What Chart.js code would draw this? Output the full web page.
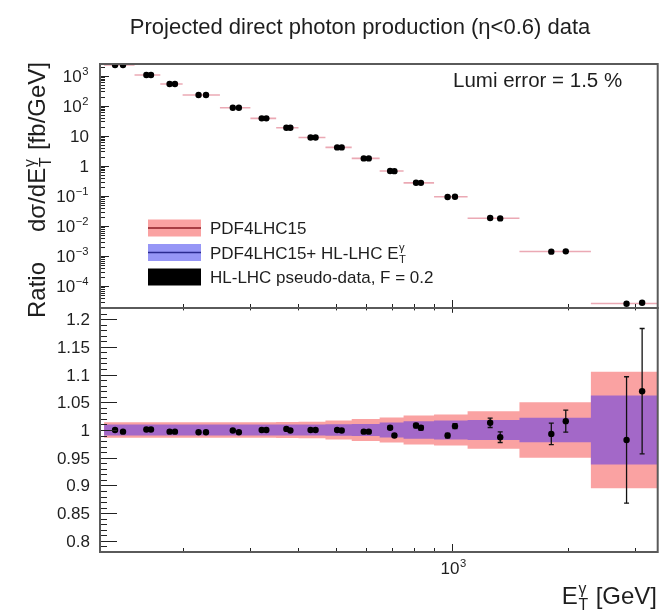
<!DOCTYPE html>
<html>
<head>
<meta charset="utf-8">
<script src="https://cdn.jsdelivr.net/npm/chart.js@4.4.1/dist/chart.umd.min.js"></script>
<style>
  html, body { margin: 0; padding: 0; background: #fff; }
  #wrap { position: relative; width: 663px; height: 616px; }
</style>
</head>
<body>
<div id="wrap"><canvas id="c" width="663" height="616"></canvas></div>
<script>
// ---- data ----
// E_T^gamma bin edges [GeV]
const binEdges = [125, 150, 175, 200, 250, 300, 350, 400, 470, 550, 650, 750, 900, 1100, 1500, 2300, 3500];
// PDF4LHC15 prediction per bin, dsigma/dE_T [fb/GeV]
const xsecTheory = [2280, 1050, 528, 228, 86, 38, 18.5, 8.8, 4.1, 1.77, 0.67, 0.27, 0.093, 0.018, 0.0014, 2.6e-5];
// E_T positions of the two pseudo-data points drawn in each bin
const etPointsA = [133.5, 161, 185, 220, 270, 321, 372, 430, 504, 591, 692, 808, 976, 1259, 1815, 2847];
const etPointsB = [140, 165.5, 191, 230, 280, 330, 381, 443, 518, 609, 710, 832, 1020, 1337, 1979, 3125];
// pseudo-data / PDF4LHC15
const ratioA = [1.000, 1.001, 0.997, 0.996, 0.999, 1.000, 1.002, 1.000, 1.000, 0.997, 1.004, 1.008, 0.990, 1.013, 0.993, 0.982];
const ratioB = [0.997, 1.001, 0.997, 0.996, 0.996, 1.000, 0.999, 1.000, 0.999, 0.997, 0.990, 1.004, 1.007, 0.987, 1.016, 1.070];
// pseudo-data uncertainties (on the ratio)
const errA = [0.001, 0.001, 0.001, 0.001, 0.001, 0.0015, 0.0015, 0.002, 0.002, 0.0025, 0.003, 0.004, 0.004, 0.0085, 0.0195, 0.114];
const errB = [0.001, 0.001, 0.001, 0.001, 0.001, 0.0015, 0.0015, 0.002, 0.002, 0.0025, 0.003, 0.004, 0.0045, 0.0095, 0.020, 0.113];
// relative PDF uncertainty (half width) before / after adding the HL-LHC data
const pdfBand = [0.014, 0.014, 0.014, 0.014, 0.014, 0.014, 0.0145, 0.015, 0.017, 0.020, 0.0225, 0.026, 0.028, 0.034, 0.050, 0.105];
const hllhcBand = [0.010, 0.010, 0.010, 0.010, 0.010, 0.010, 0.010, 0.010, 0.0105, 0.011, 0.0135, 0.0156, 0.017, 0.018, 0.022, 0.062];
// axis ticks and labels
const xLabelTicks = [1000];
const xTickLabels = [['10', '3']];
const yTopTicks = [1e3, 1e2, 10, 1, 0.1, 0.01, 1e-3, 1e-4];
const yTopLabels = [['10', '3'], ['10', '2'], ['10', ''], ['1', ''], ['10', '\u22121'], ['10', '\u22122'], ['10', '\u22123'], ['10', '\u22124']];
const yRatioTicks = [1.2, 1.15, 1.1, 1.05, 1, 0.95, 0.9, 0.85, 0.8];
const yRatioLabels = ['1.2', '1.15', '1.1', '1.05', '1', '0.95', '0.9', '0.85', '0.8'];

const FONT = '"Liberation Sans", Arial, Helvetica, sans-serif';
const PINK = 'rgb(250,162,162)';
const PURPLE = 'rgb(163,104,200)';

// ---- dataset builders ----
function bandEdge(vals, sign) {
  const pts = vals.map((h, i) => ({ x: binEdges[i], y: 1 + sign * h }));
  pts.push({ x: binEdges[binEdges.length - 1], y: 1 + sign * vals[vals.length - 1] });
  return pts;
}
function binSegments(vals) {
  const pts = [];
  vals.forEach((v, i) => {
    pts.push({ x: binEdges[i], y: v }, { x: binEdges[i + 1], y: v }, { x: binEdges[i + 1], y: null });
  });
  return pts;
}
function errorSegments(xs, ys, es) {
  const pts = [];
  xs.forEach((x, i) => {
    pts.push({ x: x, y: ys[i] - es[i] }, { x: x, y: ys[i] + es[i] }, { x: x, y: null });
  });
  return pts;
}
const toPoints = (xs, ys) => xs.map((x, i) => ({ x: x, y: ys[i] }));
const topA = ratioA.map((r, i) => xsecTheory[i] * r);
const topB = ratioB.map((r, i) => xsecTheory[i] * r);

// each bin value holds from its lower edge up to the next edge
const bandStyle = { pointRadius: 0, borderWidth: 0, stepped: 'before', yAxisID: 'yr', tension: 0 };
const dotStyle = { showLine: false, pointRadius: 3.2, pointBackgroundColor: '#000', pointBorderColor: '#000', pointBorderWidth: 0, order: 1 };
const errStyle = { yAxisID: 'yr', borderColor: '#111', borderWidth: 1.3, pointStyle: 'line', pointRadius: 2.5,
                   pointBorderColor: '#111', pointBorderWidth: 1.3, spanGaps: false, order: 2 };

const datasets = [
  Object.assign({ label: 'PDF4LHC15 up', data: bandEdge(pdfBand, 1), fill: '+1', backgroundColor: PINK, borderColor: PINK, order: 10 }, bandStyle),
  Object.assign({ label: 'PDF4LHC15 down', data: bandEdge(pdfBand, -1), fill: false, borderColor: PINK, order: 10 }, bandStyle),
  Object.assign({ label: 'HL-LHC up', data: bandEdge(hllhcBand, 1), fill: '+1', backgroundColor: PURPLE, borderColor: PURPLE, order: 8 }, bandStyle),
  Object.assign({ label: 'HL-LHC down', data: bandEdge(hllhcBand, -1), fill: false, borderColor: PURPLE, order: 8 }, bandStyle),
  { label: 'PDF4LHC15', yAxisID: 'y', data: binSegments(xsecTheory), borderColor: 'rgba(228,140,155,0.75)', borderWidth: 1.6,
    pointRadius: 0, spanGaps: false, fill: false, order: 6 },
  Object.assign({ label: 'err A', data: errorSegments(etPointsA, ratioA, errA) }, errStyle),
  Object.assign({ label: 'err B', data: errorSegments(etPointsB, ratioB, errB) }, errStyle),
  Object.assign({ label: 'ratio A', yAxisID: 'yr', data: toPoints(etPointsA, ratioA) }, dotStyle),
  Object.assign({ label: 'ratio B', yAxisID: 'yr', data: toPoints(etPointsB, ratioB) }, dotStyle),
  Object.assign({ label: 'pseudo-data A', yAxisID: 'y', data: toPoints(etPointsA, topA) }, dotStyle),
  Object.assign({ label: 'pseudo-data B', yAxisID: 'y', data: toPoints(etPointsB, topB) }, dotStyle)
];

// ---- text with sub/superscripts ----
function partsWidth(ctx, parts, size) {
  let w = 0;
  for (const p of parts) {
    if (p.t !== undefined) { ctx.font = size + 'px ' + FONT; w += ctx.measureText(p.t).width; }
    else {
      ctx.font = (size * 0.66) + 'px ' + FONT;
      const a = p.sup ? ctx.measureText(p.sup).width : 0;
      const b = p.sub ? ctx.measureText(p.sub).width : 0;
      w += Math.max(a, b) + size * 0.06;
    }
  }
  return w;
}
function drawParts(ctx, parts, x, y, size, align, color) {
  const w = partsWidth(ctx, parts, size);
  let cx = align === 'right' ? x - w : (align === 'center' ? x - w / 2 : x);
  ctx.fillStyle = color || '#1e1e1e';
  ctx.textAlign = 'left';
  ctx.textBaseline = 'alphabetic';
  for (const p of parts) {
    if (p.t !== undefined) {
      ctx.font = size + 'px ' + FONT;
      ctx.fillText(p.t, cx, y);
      cx += ctx.measureText(p.t).width;
    } else {
      ctx.font = (size * 0.66) + 'px ' + FONT;
      const a = p.sup ? ctx.measureText(p.sup).width : 0;
      const b = p.sub ? ctx.measureText(p.sub).width : 0;
      if (p.sup) ctx.fillText(p.sup, cx + size * 0.03, y - size * 0.42);
      if (p.sub) ctx.fillText(p.sub, cx + size * 0.03, y + size * 0.24);
      cx += Math.max(a, b) + size * 0.06;
    }
  }
}

// ---- frame, inward ticks, labels, legend ----
const decor = {
  id: 'decor',
  beforeDraw(chart) {
    const c = chart.ctx;
    c.save(); c.fillStyle = '#fff'; c.fillRect(0, 0, chart.width, chart.height); c.restore();
  },
  afterDraw(chart) {
    const ctx = chart.ctx;
    const xs = chart.scales.x, yt = chart.scales.y, yr = chart.scales.yr;
    const L = chart.chartArea.left, R = chart.chartArea.right;
    ctx.save();

    // ticks
    ctx.strokeStyle = '#222';
    ctx.lineWidth = 1;
    ctx.beginPath();
    // log ticks of the cross-section axis
    for (let d = -6; d <= 4; d++) {
      for (let m = 1; m <= 9; m++) {
        const v = m * Math.pow(10, d);
        if (v < yt.min || v > yt.max) continue;
        const py = Math.round(yt.getPixelForValue(v)) + 0.5;
        const len = m === 1 ? 9 : 5;
        ctx.moveTo(L, py); ctx.lineTo(L + len, py);
      }
    }
    // ratio ticks every 0.01
    for (let k = 78; k <= 122; k++) {
      const v = k / 100;
      const py = Math.round(yr.getPixelForValue(v)) + 0.5;
      const len = k % 5 === 0 ? 17 : 7;
      ctx.moveTo(L, py); ctx.lineTo(L + len, py);
    }
    // x log ticks on both panels
    for (let d = 2; d <= 3; d++) {
      for (let m = 1; m <= 9; m++) {
        const v = m * Math.pow(10, d);
        if (v < xs.min || v > xs.max) continue;
        const px = Math.round(xs.getPixelForValue(v)) + 0.5;
        const len = m === 1 ? 8 : 4;
        ctx.moveTo(px, yt.bottom); ctx.lineTo(px, yt.bottom - len);
        ctx.moveTo(px, yr.top); ctx.lineTo(px, yr.top + len * 0.6);
        ctx.moveTo(px, yr.bottom); ctx.lineTo(px, yr.bottom - len);
      }
    }
    ctx.stroke();

    // frames
    ctx.strokeStyle = '#5a5a5a';
    ctx.lineWidth = 2;
    ctx.strokeRect(L, yt.top, R - L, yt.bottom - yt.top);
    ctx.strokeRect(L, yr.top, R - L, yr.bottom - yr.top);

    // tick labels
    yTopTicks.forEach((v, i) => {
      const py = yt.getPixelForValue(v);
      const lab = yTopLabels[i];
      const parts = lab[1] ? [{ t: lab[0] }, { sup: lab[1] }] : [{ t: lab[0] }];
      drawParts(ctx, parts, 89, py + 6, 17, 'right');
    });
    yRatioTicks.forEach((v, i) => {
      const py = yr.getPixelForValue(v);
      drawParts(ctx, [{ t: yRatioLabels[i] }], 90, py + 6, 17, 'right');
    });
    xLabelTicks.forEach((v, i) => {
      const px = xs.getPixelForValue(v);
      drawParts(ctx, [{ t: xTickLabels[i][0] }, { sup: xTickLabels[i][1] }], px + 2, yr.bottom + 22, 17, 'center');
    });

    // axis titles
    drawParts(ctx, [{ t: 'E' }, { sub: 'T', sup: '\u03B3' }, { t: ' [GeV]' }], 657, 604, 24, 'right');
    ctx.save();
    ctx.translate(45, 62);
    ctx.rotate(-Math.PI / 2);
    drawParts(ctx, [{ t: 'd\u03C3/dE' }, { sub: 'T', sup: '\u03B3' }, { t: ' [fb/GeV]' }], 0, 0, 24, 'right');
    ctx.restore();
    ctx.save();
    ctx.translate(45, 262);
    ctx.rotate(-Math.PI / 2);
    drawParts(ctx, [{ t: 'Ratio' }], 0, 0, 24, 'right');
    ctx.restore();

    // title and luminosity note
    drawParts(ctx, [{ t: 'Projected direct photon production (\u03B7<0.6) data' }], 360, 34, 22, 'center');
    drawParts(ctx, [{ t: 'Lumi error = 1.5 %' }], 453, 87, 20.5, 'left');

    // legend
    const rows = [
      { fill: PINK, line: '#8c1c24', parts: [{ t: 'PDF4LHC15' }], yc: 228 },
      { fill: 'rgb(150,150,246)', line: '#2a2a90', parts: [{ t: 'PDF4LHC15+ HL-LHC E' }, { sub: 'T', sup: '\u03B3' }], yc: 252.5 },
      { fill: '#000', line: null, parts: [{ t: 'HL-LHC pseudo-data, F = 0.2' }], yc: 277 }
    ];
    rows.forEach(r => {
      ctx.fillStyle = r.fill;
      ctx.fillRect(148, r.yc - 8.5, 53, 17);
      if (r.line) {
        ctx.strokeStyle = r.line; ctx.lineWidth = 1.5;
        ctx.beginPath(); ctx.moveTo(148, r.yc); ctx.lineTo(201, r.yc); ctx.stroke();
      }
      drawParts(ctx, r.parts, 210, r.yc + 6, 17, 'left');
    });
    ctx.restore();
  }
};

const hidden = { ticks: { display: false }, grid: { display: false, drawTicks: false }, border: { display: false } };

new Chart(document.getElementById('c'), {
  type: 'line',
  data: { datasets: datasets },
  options: {
    responsive: false,
    animation: false,
    devicePixelRatio: 1,
    layout: { padding: { left: 100, right: 4, top: 64, bottom: 64 } },
    plugins: { legend: { display: false }, tooltip: { enabled: false }, title: { display: false } },
    scales: {
      x: Object.assign({ type: 'logarithmic', min: 122, max: 3430 }, hidden),
      y: Object.assign({ type: 'logarithmic', position: 'left', stack: 'panels', stackWeight: 1, weight: 2, min: 1.85e-5, max: 2450 }, hidden),
      yr: Object.assign({ type: 'linear', position: 'left', stack: 'panels', stackWeight: 1, weight: 1, min: 0.78, max: 1.22 }, hidden)
    }
  },
  plugins: [decor]
});
</script>
</body>
</html>
